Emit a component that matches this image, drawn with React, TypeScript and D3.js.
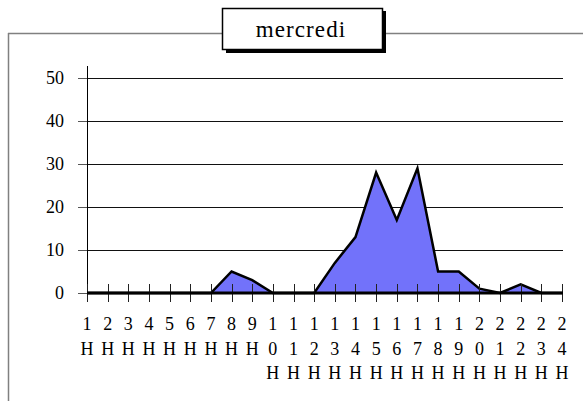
import React from "react";
import * as d3 from "d3";

const hours = d3.range(1, 25);
const values = [0, 0, 0, 0, 0, 0, 0, 5, 3, 0, 0, 0, 7, 13, 28, 17, 29, 5, 5, 1, 0, 2, 0, 0];
const yTicks = [0, 10, 20, 30, 40, 50];
const title = "mercredi";

const W = 583;
const H = 401;
const FONT = "'Liberation Serif', 'Times New Roman', serif";

export default function App() {
  const x = d3.scaleLinear().domain([1, 24]).range([87, 562]);
  const y = d3.scaleLinear().domain([0, 50]).range([293, 78]);
  const pts = hours.map((h, i) => [h, values[i]] as [number, number]);
  const area = d3
    .area<[number, number]>()
    .x((d) => x(d[0]))
    .y0(y(0))
    .y1((d) => y(d[1]));
  const line = d3
    .line<[number, number]>()
    .x((d) => x(d[0]))
    .y((d) => y(d[1]));

  return (
    <svg
      width={W}
      height={H}
      style={{ position: "absolute", left: 0, top: 0, background: "#fff" }}
    >
      {/* frame */}
      <line x1={8.5} x2={8.5} y1={33} y2={H} stroke="#808080" strokeWidth={1.5} />
      <line x1={8} x2={W} y1={33.5} y2={33.5} stroke="#808080" strokeWidth={1.5} />

      {/* gridlines and y ticks */}
      {yTicks.map((t) => (
        <g key={t}>
          {t > 0 && (
            <line x1={87} x2={563} y1={Math.round(y(t)) + 0.5} y2={Math.round(y(t)) + 0.5} stroke="#111" strokeWidth={1} />
          )}
          <line x1={78} x2={87} y1={Math.round(y(t)) + 0.5} y2={Math.round(y(t)) + 0.5} stroke="#555" strokeWidth={1} />
          <text x={64} y={y(t) + 6} textAnchor="end" fontSize={18} fill="#000" fontFamily={FONT}>
            {t}
          </text>
        </g>
      ))}
      {/* y axis */}
      <line x1={87.5} x2={87.5} y1={66} y2={301} stroke="#000" strokeWidth={1} />

      {/* area */}
      <path d={area(pts) || ""} fill="#7272fa" />
      <path d={line(pts) || ""} fill="none" stroke="#000" strokeWidth={2.5} strokeLinejoin="miter" />

      {/* x ticks */}
      {hours.map((h) => (
        <line key={h} x1={Math.round(x(h)) + 0.5} x2={Math.round(x(h)) + 0.5} y1={284} y2={302} stroke="#222" strokeWidth={1} />
      ))}
      {/* baseline */}
      <line x1={87} x2={563} y1={y(0)} y2={y(0)} stroke="#000" strokeWidth={3} />

      {/* x labels, one character per line */}
      {hours.map((h) => {
        const chars = (h + "H").split("");
        return (
          <text key={h} x={x(h)} textAnchor="middle" fontSize={18} fill="#000" fontFamily={FONT}>
            {chars.map((c, i) => (
              <tspan key={i} x={x(h)} y={330 + i * 24.5}>
                {c}
              </tspan>
            ))}
          </text>
        );
      })}

      {/* title box */}
      <rect x={226} y={11} width={160} height={42} fill="#000" />
      <rect x={222.5} y={8.5} width={160} height={41} fill="#fff" stroke="#000" strokeWidth={1.5} />
      <text x={301} y={37} textAnchor="middle" fontSize={23} letterSpacing={1.1} fill="#000" fontFamily={FONT}>
        {title}
      </text>
    </svg>
  );
}
